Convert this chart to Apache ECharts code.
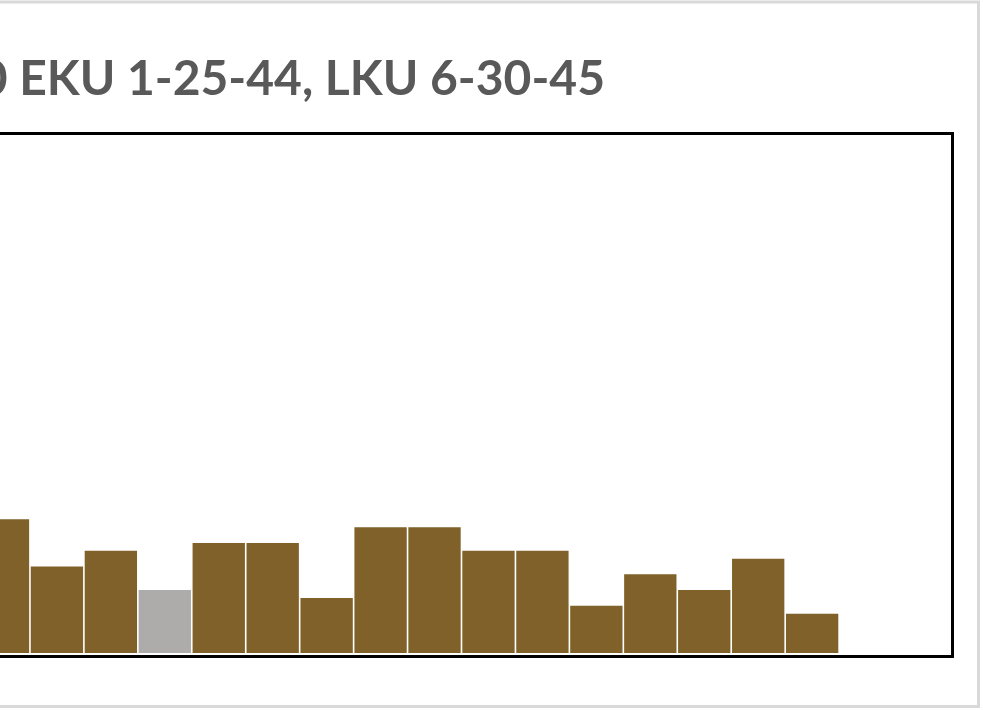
<!DOCTYPE html>
<html>
<head>
<meta charset="utf-8">
<script src="https://cdn.jsdelivr.net/npm/echarts@6/dist/echarts.min.js"></script>
<style>
html,body{margin:0;padding:0;background:#fff;overflow:hidden;width:983px;height:710px;}
#chart{position:absolute;left:-120px;top:0;width:1103px;height:710px;}
</style>
</head>
<body>
<div id="chart"></div>
<script>
const titleText = 'Type 10 EKU 1-25-44, LKU 6-30-45';
const categories = ['1','2','3','4','5','6','7','8','9','10','11','12','13','14','15','16','17','18'];
const counts = [17, 11, 13, 8, 14, 14, 7, 16, 16, 13, 13, 6, 10, 8, 12, 5, null, null];
const highlighted = [3]; // indexes drawn in grey
const yMax = 66;

const gold = '#7F6129';
const grey = '#AEACAB';

const chart = echarts.init(document.getElementById('chart'), null, {renderer: 'canvas'});
chart.setOption({
  animation: false,
  backgroundColor: '#ffffff',
  title: {
    text: titleText,
    right: 373,
    top: 51,
    textStyle: {fontFamily: 'Lato', fontWeight: 'bold', fontSize: 48, color: '#595959'}
  },
  grid: {left: 96, right: 36, top: 134, bottom: 57, show: false},
  xAxis: {
    type: 'category',
    data: categories,
    axisLine: {show: false},
    axisTick: {show: false},
    axisLabel: {show: false}
  },
  yAxis: {
    type: 'value',
    min: 0,
    max: yMax,
    show: false,
    splitLine: {show: false}
  },
  series: [{
    type: 'bar',
    data: counts.map((v, i) => ({
      value: v,
      itemStyle: {color: highlighted.includes(i) ? grey : gold}
    })),
    barCategoryGap: '3%'
  }],
  graphic: [
    {
      type: 'rect',
      shape: {x: 0, y: 2, width: 1098.5, height: 704.5},
      style: {fill: 'none', stroke: '#D9D9D9', lineWidth: 3},
      silent: true
    },
    {
      type: 'rect',
      shape: {x: 60, y: 133.5, width: 1012.5, height: 523},
      style: {fill: 'none', stroke: '#000000', lineWidth: 3},
      silent: true
    }
  ]
});
</script>
</body>
</html>
